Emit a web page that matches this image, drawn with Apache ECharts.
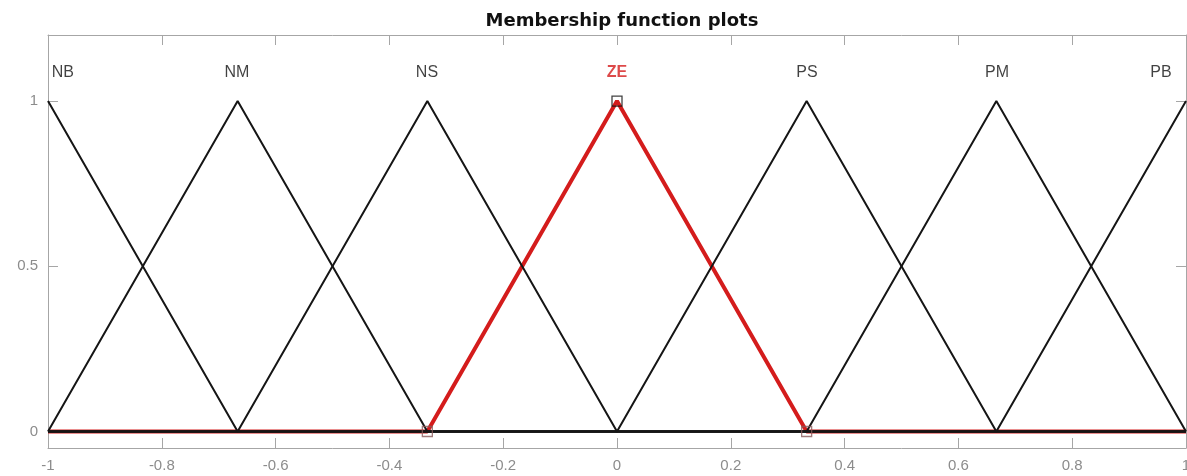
<!DOCTYPE html>
<html><head><meta charset="utf-8">
<script src="https://cdn.jsdelivr.net/npm/echarts@6/dist/echarts.min.js"></script>
<style>html,body{margin:0;padding:0;background:#fff}#c{width:1187px;height:476px}</style>
</head><body><div id="c"></div>
<script>
const title = 'Membership function plots';
const mfNames = ['NB','NM','NS','ZE','PS','PM','PB'];
const mfX = [
  [-1, -0.6667, 1],
  [-1, -0.6667, -0.3333, 1],
  [-1, -0.6667, -0.3333, 0, 1],
  [-1, -0.3333, 0, 0.3333, 1],
  [-1, 0, 0.3333, 0.6667, 1],
  [-1, 0.3333, 0.6667, 1],
  [-1, 0.6667, 1]
];
const mfY = [
  [1, 0, 0],
  [0, 1, 0, 0],
  [0, 0, 1, 0, 0],
  [0, 0, 1, 0, 0],
  [0, 0, 1, 0, 0],
  [0, 0, 1, 0],
  [0, 0, 1]
];
const selectedIdx = 3;
const labelX = [-0.974, -0.668, -0.334, 0, 0.334, 0.668, 0.956];
const labelY = 1.085;
const markerX = [-0.3333, 0, 0.3333];
const markerY = [0, 1, 0];
const xTicks = [-1,-0.8,-0.6,-0.4,-0.2,0,0.2,0.4,0.6,0.8,1];
const yTicks = [0, 0.5, 1];

const axisCol = '#a6a6a6';
const labCol = '#8c8c8c';
const fam = 'Liberation Sans, Arial, sans-serif';
const series = [];
mfNames.forEach((n, i) => {
  if (i !== selectedIdx) return;
  series.push({type:'line', data: mfX[i].map((x,k)=>[x, mfY[i][k]]), symbol:'none',
    lineStyle:{color:'#d41c1c', width:4}, z:2, animation:false});
});
mfNames.forEach((n, i) => {
  if (i === selectedIdx) return;
  series.push({type:'line', data: mfX[i].map((x,k)=>[x, mfY[i][k]]), symbol:'none',
    lineStyle:{color:'#151515', width:2}, z:3, animation:false});
});
series.push({type:'scatter', symbol:'rect', symbolSize:10, z:4, animation:false,
  data: markerX.map((x,k)=>({value:[x, markerY[k]],
    itemStyle:{color:'rgba(0,0,0,0)', borderColor: markerY[k]===1 ? '#111' : '#8a5a5a', borderWidth:1.3}}))});
series.push({type:'scatter', symbolSize:0, z:5, animation:false,
  data: mfNames.map((n,i)=>({value:[labelX[i], labelY], name:n,
    label:{show:true, position:'inside', formatter:n, fontSize:16, fontFamily:fam,
      color: i===selectedIdx ? '#d41c1c' : '#111',
      fontWeight: i===selectedIdx ? 'bold' : 'normal'}}))});

const chart = echarts.init(document.getElementById('c'), null, {renderer:'canvas'});
chart.setOption({
  backgroundColor:'#fff',
  animation:false,
  title:{text:title, left:617, textAlign:'center', top:7,
    textStyle:{fontSize:18, fontWeight:'bold', color:'#111', fontFamily:'DejaVu Sans, sans-serif'}},
  grid:{left:48, right:1, top:35, bottom:28, outerBoundsMode:'none'},
  xAxis:[
    {type:'value', min:-1, max:1, interval:0.2, position:'bottom',
     axisLine:{show:true, onZero:false, lineStyle:{color:axisCol, width:1}},
     axisTick:{show:true, inside:true, length:10, lineStyle:{color:axisCol}},
     axisLabel:{show:true, color:labCol, fontSize:15, margin:10, fontFamily:fam,
       formatter: v => String(Math.round(v*10)/10)},
     splitLine:{show:false}},
    {type:'value', min:-1, max:1, interval:0.2, position:'top',
     axisLine:{show:true, onZero:false, lineStyle:{color:axisCol, width:1}},
     axisTick:{show:true, inside:true, length:10, lineStyle:{color:axisCol}},
     axisLabel:{show:false}, splitLine:{show:false}}
  ],
  yAxis:[
    {type:'value', min:-0.05, max:1.2, position:'left',
     axisLine:{show:true, onZero:false, lineStyle:{color:axisCol, width:1}},
     axisTick:{show:true, inside:true, length:10, customValues:yTicks, lineStyle:{color:axisCol}},
     axisLabel:{show:true, customValues:yTicks, color:labCol, fontSize:15, margin:10, fontFamily:fam},
     splitLine:{show:false}},
    {type:'value', min:-0.05, max:1.2, position:'right',
     axisLine:{show:true, onZero:false, lineStyle:{color:axisCol, width:1}},
     axisTick:{show:true, inside:true, length:10, customValues:yTicks, lineStyle:{color:axisCol}},
     axisLabel:{show:false}, splitLine:{show:false}}
  ],
  series: series
});
</script></body></html>
